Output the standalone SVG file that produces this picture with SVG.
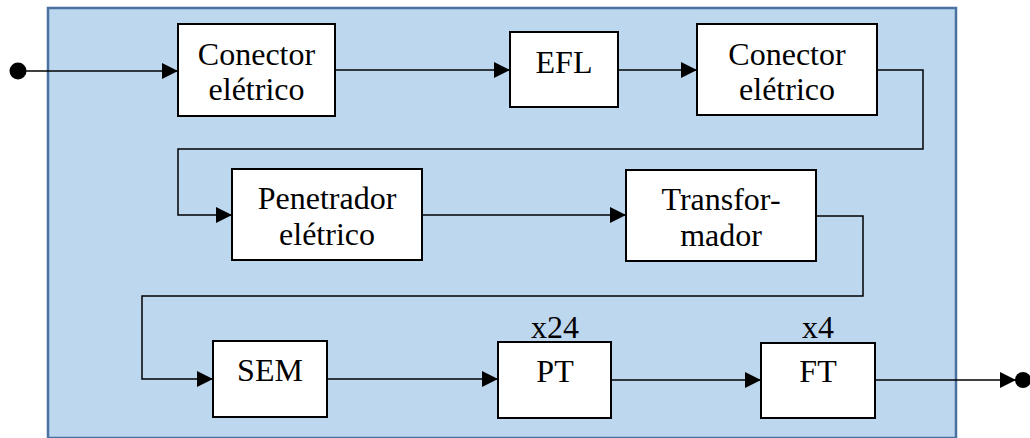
<svg xmlns="http://www.w3.org/2000/svg" width="1030" height="438" viewBox="0 0 1030 438">
  <style>
    .frame { fill: #bdd7ee; stroke: #4a72a0; stroke-width: 2.5; }
    .box { fill: #ffffff; stroke: #000000; stroke-width: 2; }
    .lbl { font-size: 32px; fill: #000000; text-anchor: middle; }
    .wire { fill: none; stroke: #000000; stroke-width: 1.5; }
  </style>
  <defs>
    <marker id="arrowBig" viewBox="0 0 16 16" refX="16" refY="8" markerWidth="16" markerHeight="16" markerUnits="userSpaceOnUse" orient="auto">
      <path d="M0,0 L16,8 L0,16 z" fill="#000000"/>
    </marker>
  </defs>

  <!-- enclosing block -->
  <rect class="frame" x="48" y="8" width="908" height="430"/>

  <g id="connectors">
    <line class="wire" x1="18" y1="71" x2="178" y2="71" marker-end="url(#arrowBig)"/>
    <line class="wire" x1="335" y1="70" x2="510" y2="70" marker-end="url(#arrowBig)"/>
    <line class="wire" x1="618" y1="70" x2="697" y2="70" marker-end="url(#arrowBig)"/>
    <polyline class="wire" points="877,70 923,70 923,149 178,149 178,215 232,215" marker-end="url(#arrowBig)"/>
    <line class="wire" x1="422" y1="215" x2="626" y2="215" marker-end="url(#arrowBig)"/>
    <polyline class="wire" points="816,216 863,216 863,296 142,296 142,379 213,379" marker-end="url(#arrowBig)"/>
    <line class="wire" x1="327" y1="379" x2="498" y2="379" marker-end="url(#arrowBig)"/>
    <line class="wire" x1="611" y1="380" x2="761" y2="380" marker-end="url(#arrowBig)"/>
    <line class="wire" x1="875" y1="380" x2="1016" y2="380" marker-end="url(#arrowBig)"/>
    <circle cx="18" cy="71" r="8.5" fill="#000000"/>
    <circle cx="1023" cy="380" r="8" fill="#000000"/>
  </g>

  <g font-family="'Liberation Serif', Tinos, 'Times New Roman', Times, 'DejaVu Serif', serif">
    <g id="conector1">
      <rect class="box" x="178" y="24" width="157" height="92"/>
      <text class="lbl" x="256.5" y="65">Conector</text>
      <text class="lbl" x="256.5" y="100">elétrico</text>
    </g>

    <g id="efl">
      <rect class="box" x="510" y="32" width="108" height="75"/>
      <text class="lbl" x="564" y="73">EFL</text>
    </g>

    <g id="conector2">
      <rect class="box" x="697" y="24" width="180" height="91"/>
      <text class="lbl" x="787" y="65">Conector</text>
      <text class="lbl" x="787" y="100">elétrico</text>
    </g>

    <g id="penetrador">
      <rect class="box" x="232" y="169" width="190" height="91"/>
      <text class="lbl" x="327" y="209">Penetrador</text>
      <text class="lbl" x="327" y="245">elétrico</text>
    </g>

    <g id="transformador">
      <rect class="box" x="626" y="170" width="190" height="91"/>
      <text class="lbl" x="721" y="210">Transfor-</text>
      <text class="lbl" x="721" y="246">mador</text>
    </g>

    <g id="sem">
      <rect class="box" x="213" y="341" width="114" height="76"/>
      <text class="lbl" x="270" y="381">SEM</text>
    </g>

    <g id="pt">
      <rect class="box" x="498" y="342" width="113" height="76"/>
      <text class="lbl" x="555" y="338">x24</text>
      <text class="lbl" x="555" y="382">PT</text>
    </g>

    <g id="ft">
      <rect class="box" x="761" y="343" width="114" height="75"/>
      <text class="lbl" x="818" y="338">x4</text>
      <text class="lbl" x="818" y="382">FT</text>
    </g>
  </g>
</svg>
